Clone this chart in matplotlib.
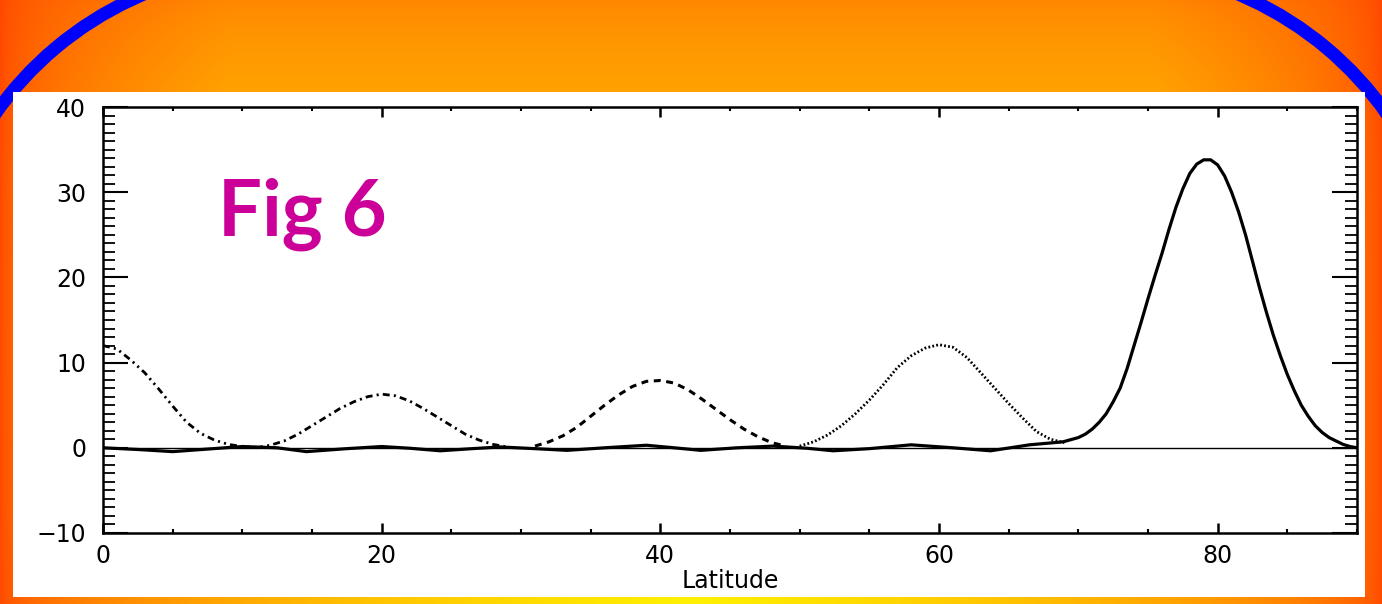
import numpy as np
import matplotlib
matplotlib.use("Agg")
import matplotlib.pyplot as plt
from matplotlib.patches import Arc, Rectangle
from matplotlib.ticker import MultipleLocator

# ---------------- data ----------------
lat_p0 = [0, 1, 2, 3, 4, 5, 6, 7, 8, 9, 10, 11, 12]
val_p0 = [12.0, 11.6, 10.3, 8.8, 6.9, 4.9, 3.0, 1.7, 0.9, 0.4, 0.15, 0.05, 0.0]

lat_p20 = [11, 12, 13, 14, 15, 16, 17, 18, 19, 20, 21, 22, 23, 24, 25, 26, 27, 28, 29]
val_p20 = [0.0, 0.3, 0.8, 1.6, 2.6, 3.6, 4.6, 5.4, 6.0, 6.3, 6.1, 5.5, 4.6, 3.6, 2.6, 1.6, 0.9, 0.4, 0.1]

lat_p40 = [31, 32, 33, 34, 35, 36, 37, 38, 39, 40, 41, 42, 43, 44, 45, 46, 47, 48, 49]
val_p40 = [0.2, 0.7, 1.4, 2.4, 3.7, 5.0, 6.2, 7.2, 7.8, 7.9, 7.6, 6.8, 5.7, 4.5, 3.3, 2.2, 1.3, 0.6, 0.2]

lat_p60 = [50, 51, 52, 53, 54, 55, 56, 57, 58, 59, 60, 61, 62, 63, 64, 65, 66, 67, 68, 69]
val_p60 = [0.2, 0.7, 1.5, 2.6, 4.0, 5.6, 7.4, 9.4, 10.8, 11.7, 12.1, 11.8, 10.6, 8.8, 7.0, 5.2, 3.5, 1.9, 1.0, 0.6]

lat_p80 = [0, 2.5, 5, 7.5, 10, 12.5, 14.6, 17.5, 20, 22, 24.2, 26.5, 28.5, 31, 33.3, 36,
           39, 41, 42.9, 45.5, 48.1, 50.5, 52.4, 55, 58, 61, 63.7, 66.5, 68.9,
           70, 70.5, 71, 71.5, 72, 72.5, 73, 73.5, 74, 74.5, 75, 75.5, 76, 76.5, 77, 77.5,
           78, 78.5, 79, 79.5, 80, 80.5, 81, 81.5, 82, 82.5, 83, 83.5, 84, 84.5, 85, 85.5,
           86, 86.5, 87, 87.5, 88, 88.5, 89, 89.5, 90]
val_p80 = [0.0, -0.2, -0.45, -0.15, 0.15, 0.0, -0.45, -0.1, 0.15, -0.05, -0.35, -0.1, 0.1, -0.1, -0.3, 0.0,
           0.3, 0.0, -0.3, 0.0, 0.2, -0.05, -0.35, -0.1, 0.35, 0.0, -0.35, 0.35, 0.7,
           1.2, 1.6, 2.2, 3.0, 4.0, 5.4, 7.0, 9.3, 12.0, 14.7, 17.5, 20.2, 22.8, 25.6, 28.2, 30.4,
           32.2, 33.3, 33.8, 33.8, 33.2, 31.9, 30.0, 27.7, 25.0, 21.9, 18.8, 15.9, 13.2, 10.8, 8.6, 6.7,
           5.0, 3.7, 2.6, 1.8, 1.2, 0.8, 0.4, 0.15, 0.0]

x_ticks = [0, 20, 40, 60, 80]
y_ticks = [-10, 0, 10, 20, 30, 40]
x_label = "Latitude"
title_text = "Fig 6"

# ---------------- figure ----------------
plt.rcParams["lines.scale_dashes"] = False
W, H = 1382, 604
fig = plt.figure(figsize=(W / 100, H / 100), dpi=100)

# background decoration
bg = fig.add_axes([0, 0, 1, 1], zorder=0)
bg.set_xlim(0, W)
bg.set_ylim(H, 0)
bg.axis("off")
X, Y = np.meshgrid(np.arange(W) + 0.5, np.arange(H) + 0.5)
dist = np.minimum(X, W - X)
D = 230 + 460 * (Y / H) ** 4
w = np.sqrt(np.clip(dist / D, 0, 1))
Gc = 134 + 106 * (Y / H) ** 0.7
G = 68 + w * (Gc - 68)
img = np.dstack([np.ones_like(G), G / 255.0, np.zeros_like(G)])
bg.imshow(img, extent=(0, W, H, 0), aspect="auto", interpolation="bilinear")
bg.add_patch(Arc((278, 313), 692, 692, theta1=200, theta2=260, color="#0000FF", lw=9.4))
bg.add_patch(Arc((W - 278, 313), 692, 692, theta1=280, theta2=340, color="#0000FF", lw=9.4))
bg.add_patch(Rectangle((13, 92), 1352, 505, facecolor="white", edgecolor="none"))

# main axes
ax = fig.add_axes([103 / W, (H - 533) / H, (1357 - 103) / W, (533 - 107) / H], zorder=2)
ax.set_facecolor("white")
ax.axhline(0, color="black", lw=1.0)
ax.plot(lat_p0, val_p0, color="black", lw=2.0, dashes=(5, 3, 1.5, 3, 1.5, 3))
ax.plot(lat_p20, val_p20, color="black", lw=2.0, dashes=(5, 3, 1.5, 3))
ax.plot(lat_p40, val_p40, color="black", lw=2.2, dashes=(5, 4))
ax.plot(lat_p60, val_p60, color="black", lw=2.0, dashes=(1.3, 1.6))
ax.plot(lat_p80, val_p80, color="black", lw=2.3, solid_joinstyle="round")

ax.set_xlim(0, 90)
ax.set_ylim(-10, 40)
ax.set_xticks(x_ticks)
ax.set_yticks(y_ticks)
ax.xaxis.set_minor_locator(MultipleLocator(5))
ax.yaxis.set_minor_locator(MultipleLocator(1))
ax.tick_params(axis="x", which="major", direction="in", length=7.5, width=1.8,
               top=True, pad=8, labelsize=17)
ax.tick_params(axis="x", which="minor", direction="in", length=3, width=1.5, top=True)
ax.tick_params(axis="y", which="major", direction="in", length=18, width=1.5,
               right=True, pad=12, labelsize=17)
ax.tick_params(axis="y", which="minor", direction="in", length=8.5, width=1.3, right=True)
for s in ax.spines.values():
    s.set_linewidth(1.8)
ax.set_xlabel(x_label, fontsize=17, labelpad=1)

fig.text(218 / W, 1 - 236 / H, title_text, color="#CC0099", fontsize=56,
         fontfamily="Lato", fontweight="bold", ha="left", va="baseline", zorder=5)

fig.savefig("out.png", dpi=100)
